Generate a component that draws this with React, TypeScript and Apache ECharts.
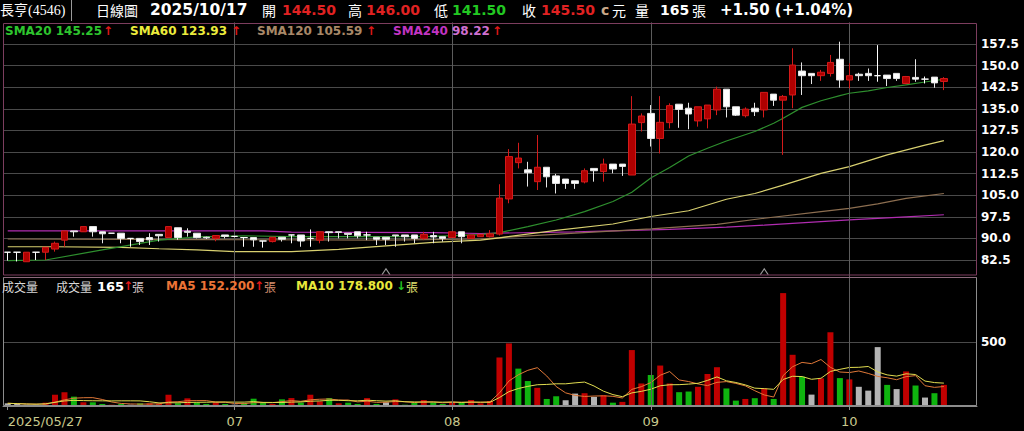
import React, { useEffect, useRef } from "react";
import * as echarts from "echarts";

// ---------- data ----------
const dates: string[] = [
  "2025/05/27", "2025/05/28", "2025/05/29",
  "2025/06/02", "2025/06/03", "2025/06/04", "2025/06/05", "2025/06/06", "2025/06/09", "2025/06/10",
  "2025/06/11", "2025/06/12", "2025/06/13", "2025/06/16", "2025/06/17", "2025/06/18", "2025/06/19",
  "2025/06/20", "2025/06/23", "2025/06/24", "2025/06/25", "2025/06/26", "2025/06/27", "2025/06/30",
  "2025/07/01", "2025/07/02", "2025/07/03", "2025/07/04", "2025/07/07", "2025/07/08", "2025/07/09",
  "2025/07/10", "2025/07/11", "2025/07/14", "2025/07/15", "2025/07/16", "2025/07/17", "2025/07/18",
  "2025/07/21", "2025/07/22", "2025/07/23", "2025/07/24", "2025/07/25", "2025/07/28", "2025/07/29",
  "2025/07/30", "2025/07/31",
  "2025/08/01", "2025/08/04", "2025/08/05", "2025/08/06", "2025/08/07", "2025/08/08", "2025/08/11",
  "2025/08/12", "2025/08/13", "2025/08/14", "2025/08/15", "2025/08/18", "2025/08/19", "2025/08/20",
  "2025/08/21", "2025/08/22", "2025/08/25", "2025/08/26", "2025/08/27", "2025/08/28", "2025/08/29",
  "2025/09/01", "2025/09/02", "2025/09/03", "2025/09/04", "2025/09/05", "2025/09/08", "2025/09/09",
  "2025/09/10", "2025/09/11", "2025/09/12", "2025/09/15", "2025/09/16", "2025/09/17", "2025/09/18",
  "2025/09/19", "2025/09/22", "2025/09/23", "2025/09/24", "2025/09/25", "2025/09/26", "2025/09/30",
  "2025/10/01", "2025/10/02", "2025/10/03", "2025/10/07", "2025/10/08", "2025/10/09", "2025/10/13",
  "2025/10/14", "2025/10/15", "2025/10/16", "2025/10/17",
];

// dates that carry an x-axis label (first day, then first trading day of each shown month)
const labelDates: string[] = ["2025/05/27", "2025/07/01", "2025/08/01", "2025/09/01", "2025/10/01"];

// [open, close, low, high]
const ohlc: number[][] = [
  [85.2, 85.2, 82.3, 85.2], [85.2, 85.2, 82.0, 85.2], [81.9, 85.2, 81.9, 85.2], [85.2, 85.2, 82.5, 85.2],
  [85.2, 86.9, 82.5, 86.9], [86.3, 88.3, 85.4, 88.9], [89.4, 92.6, 87.1, 92.6], [92.6, 92.3, 90.6, 92.6],
  [92.3, 94.1, 92.3, 94.1], [94.1, 92.3, 90.6, 94.1], [92.3, 91.6, 88.3, 92.3], [91.8, 91.8, 91.8, 91.8],
  [91.8, 90.0, 88.3, 91.8], [90.0, 90.0, 87.1, 90.0], [90.0, 88.9, 87.7, 90.0], [90.3, 89.5, 87.7, 91.8],
  [91.4, 90.9, 88.9, 91.4], [90.3, 94.1, 90.3, 94.1], [93.7, 90.3, 89.5, 93.7], [92.5, 92.1, 90.6, 93.5],
  [91.8, 90.3, 90.0, 91.8], [90.4, 90.2, 89.8, 90.6], [90.0, 91.0, 89.0, 91.0], [91.2, 90.7, 90.0, 91.2],
  [90.7, 90.7, 90.4, 90.8], [90.3, 90.3, 87.1, 90.3], [90.3, 89.5, 87.1, 90.3], [89.1, 89.1, 86.8, 89.1],
  [88.9, 90.4, 88.6, 90.4], [90.4, 89.7, 88.9, 90.4], [91.2, 91.2, 88.3, 91.2], [91.2, 89.1, 87.1, 91.2],
  [90.0, 90.0, 87.1, 93.1], [89.4, 92.3, 88.3, 92.3], [92.3, 92.0, 88.9, 92.3], [92.3, 92.1, 90.0, 92.3],
  [91.8, 91.4, 90.0, 91.8], [92.3, 90.9, 90.0, 92.3], [91.2, 91.2, 89.4, 92.3], [90.4, 89.7, 87.7, 90.4],
  [90.4, 89.7, 87.7, 90.4], [91.2, 90.9, 87.1, 91.2], [91.2, 90.6, 88.9, 91.2], [91.2, 90.0, 88.3, 91.2],
  [90.0, 91.4, 89.4, 92.3], [91.0, 90.5, 88.3, 92.3], [90.6, 90.0, 88.9, 90.6], [90.3, 92.3, 90.3, 92.3],
  [92.3, 90.6, 88.3, 92.3], [90.0, 91.2, 90.0, 91.2], [90.6, 91.4, 90.6, 91.4], [90.6, 91.6, 90.3, 92.9],
  [91.5, 104.0, 91.0, 108.8], [103.7, 118.4, 102.2, 121.0], [116.3, 117.9, 114.3, 123.2], [113.8, 112.8, 108.0, 116.6],
  [109.7, 114.7, 106.8, 125.9], [114.7, 111.4, 107.7, 114.7], [111.7, 109.1, 105.6, 112.4], [110.6, 109.1, 107.2, 110.6],
  [110.0, 109.1, 107.2, 110.0], [109.6, 113.5, 109.1, 114.3], [114.3, 113.5, 109.7, 114.3], [113.2, 115.8, 109.7, 117.7],
  [115.8, 114.1, 112.6, 115.8], [115.8, 115.0, 111.7, 115.8], [112.0, 129.7, 112.0, 139.4], [130.2, 132.5, 127.1, 133.4],
  [133.4, 124.7, 121.9, 136.3], [124.7, 130.3, 119.5, 139.4], [130.2, 136.1, 128.2, 136.9], [136.6, 134.8, 128.4, 136.6],
  [135.2, 133.2, 127.9, 137.1], [130.8, 135.7, 128.8, 135.7], [131.5, 136.3, 128.2, 136.3], [134.6, 141.8, 132.8, 142.7],
  [141.8, 135.7, 132.0, 141.8], [135.7, 132.8, 132.5, 135.7], [132.6, 134.9, 132.0, 135.5], [135.2, 134.0, 132.5, 137.1],
  [134.6, 140.7, 132.0, 140.7], [140.1, 138.0, 136.0, 140.1], [138.0, 139.3, 119.0, 139.8], [139.8, 150.2, 135.2, 156.0],
  [148.1, 146.5, 139.8, 151.1], [147.3, 146.5, 143.6, 147.3], [146.5, 147.7, 144.7, 148.5], [147.3, 151.1, 146.2, 153.7],
  [152.2, 145.0, 142.3, 158.3], [145.0, 146.5, 142.1, 150.8], [147.0, 146.5, 144.7, 147.5], [147.3, 146.5, 144.7, 149.0],
  [146.5, 146.5, 144.4, 157.1], [146.7, 145.5, 142.9, 146.7], [147.3, 145.5, 144.7, 147.3], [143.8, 146.2, 143.5, 146.4],
  [145.9, 145.3, 144.4, 152.2], [145.3, 145.3, 143.8, 146.2], [146.0, 144.0, 142.3, 146.0], [144.5, 145.5, 141.5, 146.0],
];

const volumes: number[] = [
  21, 16, 10, 10, 26, 88, 107, 73, 29, 29, 16, 10, 16, 10, 21, 21, 16, 88, 21, 60,
  26, 16, 29, 16, 10, 21, 57, 26, 16, 52, 62, 26, 88, 36, 62, 21, 26, 16, 62, 16,
  29, 52, 10, 26, 47, 26, 16, 31, 26, 47, 21, 39,
  379, 489, 292, 195, 142, 55, 76, 45, 97, 100, 71, 84, 26, 32, 437, 176, 242, 316,
  176, 108, 113, 150, 250, 303, 137, 42, 55, 61, 137, 55, 882, 400, 229, 89, 216, 576,
  218, 208, 150, 120, 460, 165, 132, 270, 160, 66, 100, 165,
];

// moving-average lines: [candle index, value]
const sma20Pts: [number, number][] = [
  [0, 82.3], [4, 82.5], [10, 86.0], [16, 89.4], [20, 90.5], [25, 90.9], [30, 90.6], [40, 90.6], [45, 90.7],
  [50, 91.3], [52, 92.0], [55, 94.1], [58, 96.4], [61, 99.3], [64, 102.8], [66, 106.0], [68, 111.0],
  [70, 114.6], [72, 118.6], [74, 121.3], [76, 123.8], [79, 127.1], [81, 130.0], [82, 131.7], [84, 135.5],
  [86, 137.8], [88, 139.6], [89, 140.4], [91, 141.2], [93, 142.4], [95, 143.3], [97, 144.3], [99, 145.25],
];
const sma60Pts: [number, number][] = [
  [0, 87.1], [5, 87.1], [12, 86.9], [16, 86.4], [20, 86.0], [24, 85.4], [30, 85.4], [35, 86.2], [40, 87.4],
  [45, 88.6], [50, 89.4], [52, 90.2], [58, 92.8], [64, 95.0], [68, 97.6], [72, 99.6], [76, 103.6],
  [79, 105.6], [82, 108.5], [86, 112.6], [89, 114.9], [93, 119.0], [97, 122.4], [99, 123.93],
];
const sma120Pts: [number, number][] = [
  [0, 89.8], [20, 89.6], [40, 89.4], [50, 89.8], [52, 90.3], [60, 91.8], [68, 93.3], [75, 94.9],
  [80, 97.0], [86, 99.3], [89, 100.4], [92, 102.0], [95, 103.9], [99, 105.59],
];
const sma240Pts: [number, number][] = [
  [0, 92.6], [27, 92.6], [30, 92.2], [45, 92.0], [50, 91.7], [60, 92.3], [70, 93.1], [76, 93.9],
  [80, 94.6], [89, 96.4], [95, 97.5], [99, 98.22],
];

const markerIdx: number[] = [40, 80];
const markerValue = 78.4;

const priceMin = 75, priceMax = 165, priceStep = 7.5;
const volMin = 0, volMax = 1000, volStep = 500;
const padSlots = 3;

// ---------- helpers ----------
const cats = [...dates, ...Array.from({ length: padSlots }, (_, k) => " ".repeat(k + 1))];
const labelIdx = labelDates.map((d) => dates.indexOf(d));
const isLabel = (i: number) => labelIdx.includes(i);
const gridIdx = labelIdx.filter((i) => i > 0);
const closes = ohlc.map((r) => r[1]);

const fromPts = (pts: [number, number][]) => {
  const arr: (number | null)[] = cats.map(() => null);
  pts.forEach(([i, v]) => (arr[i] = v));
  return arr;
};
const movingAvg = (vals: number[], n: number) =>
  vals.map((_, i) => {
    const s = vals.slice(Math.max(0, i - n + 1), i + 1);
    return +(s.reduce((a, b) => a + b, 0) / s.length).toFixed(1);
  });

const UP_FILL = "#b00000";
const UP_BORDER = "#d41a1a";
const DN_FILL = "#ffffff";
const DN_BORDER = "#e6e6e6";
const GRID_C = "#4a4a4a";
const VLINE_C = "#5c5c5c";
const FONT = "DejaVu Sans";
const CJK = "Noto Sans CJK TC";

const txt = (x: number, y: number, text: string, fill: string, size: number, bold = false, family = FONT) => ({
  type: "text",
  x,
  y,
  z: 100,
  silent: true,
  style: { text, fill, fontSize: size, fontWeight: bold ? "bold" : "normal", fontFamily: family, verticalAlign: "middle" },
});

export default function App() {
  const ref = useRef<HTMLDivElement>(null);

  useEffect(() => {
    if (!ref.current) return;
    const chart = echarts.init(ref.current, null, { renderer: "svg" });

    const vlineMark = {
      silent: true,
      symbol: "none",
      label: { show: false },
      lineStyle: { color: VLINE_C, type: "solid", width: 1 },
      data: gridIdx.map((i) => ({ xAxis: i })),
    };

    const volColor = (p: any) => {
      const i = p.dataIndex;
      if (i === 0) return "#b4b4b4";
      if (closes[i] > closes[i - 1]) return "#c00000";
      if (closes[i] < closes[i - 1]) return "#0fb40f";
      return "#b4b4b4";
    };

    const option: any = {
      animation: false,
      backgroundColor: "#000000",
      grid: [
        { left: 3, right: 47, top: 22.4, height: 259.2 },
        { left: 3, right: 47, top: 278, height: 128 },
      ],
      xAxis: [
        {
          type: "category", gridIndex: 0, data: cats, boundaryGap: true,
          axisLine: { show: false }, axisTick: { show: false }, axisLabel: { show: false }, splitLine: { show: false },
        },
        {
          type: "category", gridIndex: 1, data: cats, boundaryGap: true,
          axisLine: { show: true, lineStyle: { color: "#8c8c8c" } },
          axisTick: {
            show: true, alignWithLabel: true, length: 4,
            interval: (i: number) => isLabel(i),
            lineStyle: { color: "#8c8c8c" },
          },
          axisLabel: {
            interval: (i: number) => isLabel(i),
            formatter: (v: string, i: number) => (i === 0 ? v : v.slice(5, 7)),
            color: "#c8c88c", fontSize: 13, fontFamily: FONT, margin: 9,
            alignMinLabel: "left", hideOverlap: false,
          },
          splitLine: { show: false },
        },
      ],
      yAxis: [
        {
          type: "value", gridIndex: 0, position: "right", min: priceMin, max: priceMax, interval: priceStep,
          axisLine: { show: false }, axisTick: { show: false },
          axisLabel: {
            showMinLabel: false, showMaxLabel: false, color: "#ffffff", fontWeight: "bold",
            fontSize: 12, fontFamily: FONT, margin: 4, formatter: (v: number) => v.toFixed(1),
          },
          splitLine: { show: true, showMinLine: false, showMaxLine: false, lineStyle: { color: GRID_C, width: 1 } },
        },
        {
          type: "value", gridIndex: 1, position: "right", min: volMin, max: volMax, interval: volStep,
          axisLine: { show: false }, axisTick: { show: false },
          axisLabel: {
            showMinLabel: false, showMaxLabel: false, color: "#ffffff", fontWeight: "bold",
            fontSize: 12, fontFamily: FONT, margin: 4,
          },
          splitLine: { show: true, showMinLine: false, showMaxLine: false, lineStyle: { color: GRID_C, width: 1 } },
        },
      ],
      series: [
        {
          type: "candlestick", xAxisIndex: 0, yAxisIndex: 0, data: ohlc, barWidth: 7, z: 5,
          itemStyle: {
            color: UP_FILL, color0: DN_FILL, borderColor: UP_BORDER, borderColor0: DN_BORDER,
            borderColorDoji: "#ffffff", borderWidth: 1,
          },
          markLine: vlineMark,
        },
        { type: "line", xAxisIndex: 0, yAxisIndex: 0, data: fromPts(sma240Pts), connectNulls: true, showSymbol: false, z: 3, lineStyle: { color: "#b02cb0", width: 1.2 } },
        { type: "line", xAxisIndex: 0, yAxisIndex: 0, data: fromPts(sma120Pts), connectNulls: true, showSymbol: false, z: 3, lineStyle: { color: "#8c6e50", width: 1.2 } },
        { type: "line", xAxisIndex: 0, yAxisIndex: 0, data: fromPts(sma60Pts), connectNulls: true, showSymbol: false, z: 3, lineStyle: { color: "#d8d070", width: 1.2 } },
        { type: "line", xAxisIndex: 0, yAxisIndex: 0, data: fromPts(sma20Pts), connectNulls: true, showSymbol: false, z: 3, lineStyle: { color: "#2e8f2e", width: 1.2 } },
        {
          type: "scatter", xAxisIndex: 0, yAxisIndex: 0, z: 4,
          data: markerIdx.map((i) => [i, markerValue]),
          symbol: "path://M0,10 L5,0 L10,10", symbolSize: [8, 6],
          itemStyle: { color: "transparent", borderColor: "#bdbdbd", borderWidth: 1 },
        },
        {
          type: "bar", xAxisIndex: 1, yAxisIndex: 1, data: volumes, barWidth: 6, z: 3,
          itemStyle: { color: volColor },
          markLine: vlineMark,
        },
        { type: "line", xAxisIndex: 1, yAxisIndex: 1, data: movingAvg(volumes, 5), showSymbol: false, z: 4, lineStyle: { color: "#e07838", width: 1 } },
        { type: "line", xAxisIndex: 1, yAxisIndex: 1, data: movingAvg(volumes, 10), showSymbol: false, z: 4, lineStyle: { color: "#e0dc50", width: 1 } },
      ],
      graphic: [
        // frames
        { type: "rect", z: 50, silent: true, shape: { x: 3.5, y: 23.5, width: 973, height: 251.5 }, style: { fill: "none", stroke: "#7c3d5e", lineWidth: 1 } },
        { type: "rect", z: 50, silent: true, shape: { x: 3.5, y: 277.5, width: 973, height: 128 }, style: { fill: "none", stroke: "#8c8c8c", lineWidth: 1 } },
        { type: "line", z: 50, silent: true, shape: { x1: 3.5, y1: 277.5, x2: 976.5, y2: 277.5 }, style: { stroke: "#8c6a7c", lineWidth: 1 } },
        { type: "line", z: 50, silent: true, shape: { x1: 71.5, y1: 0, x2: 71.5, y2: 21 }, style: { stroke: "#9a9a9a", lineWidth: 1 } },
        // header
        txt(0, 10, "長亨(4546)", "#ffffff", 14, false, `"Liberation Serif", "${CJK}"`),
        txt(96, 10, "日線圖", "#ffffff", 14, false, CJK),
        txt(150, 10, "2025/10/17", "#ffffff", 15.5, true),
        txt(262, 10, "開", "#ffffff", 14, false, CJK),
        txt(282, 10, "144.50", "#e02222", 14, true),
        txt(348, 10, "高", "#ffffff", 14, false, CJK),
        txt(366, 10, "146.00", "#e02222", 14, true),
        txt(434, 10, "低", "#ffffff", 14, false, CJK),
        txt(452, 10, "141.50", "#22c822", 14, true),
        txt(522, 10, "收", "#ffffff", 14, false, CJK),
        txt(541, 10, "145.50", "#e02222", 14, true),
        txt(601, 10, "c", "#c8a888", 14, true),
        txt(612, 10, "元", "#ffffff", 14, false, CJK),
        txt(635, 10, "量", "#ffffff", 14, false, CJK),
        txt(660, 10, "165", "#ffffff", 14, true),
        txt(692, 10, "張", "#ffffff", 14, false, CJK),
        txt(720, 10, "+1.50 (+1.04%)", "#ffffff", 15, true),
        // price legend
        txt(5, 31, "SMA20 145.25", "#2ec42e", 12, true),
        txt(103, 31, "↑", "#e01818", 12, true),
        txt(130, 31, "SMA60 123.93", "#ecec3c", 12, true),
        txt(231, 31, "↑", "#e01818", 12, true),
        txt(257, 31, "SMA120 105.59", "#a88868", 12, true),
        txt(366, 31, "↑", "#e01818", 12, true),
        txt(393, 31, "SMA240", "#c234c2", 12, true),
        txt(452, 31, "98.22", "#d070d0", 12, true),
        txt(492, 31, "↑", "#e01818", 12, true),
        // volume legend
        txt(2, 286, "成交量", "#d8d8d8", 12, false, CJK),
        txt(56, 286, "成交量", "#d8d8d8", 12, false, CJK),
        txt(97, 286, "165", "#ffffff", 13, true),
        txt(123, 286, "↑", "#e01818", 12, true),
        txt(132, 286, "張", "#d8c8c8", 12, false, CJK),
        txt(166, 286, "MA5 152.200", "#ec7436", 12, true),
        txt(254, 286, "↑", "#e01818", 12, true),
        txt(264, 286, "張", "#d89070", 12, false, CJK),
        txt(296, 286, "MA10 178.800", "#e8e83c", 12, true),
        txt(396, 286, "↓", "#22c822", 12, true),
        txt(406, 286, "張", "#e0e070", 12, false, CJK),
      ],
    };

    chart.setOption(option);
    return () => chart.dispose();
  }, []);

  return (
    <div
      ref={ref}
      style={{ position: "absolute", left: 0, top: 0, width: 1024, height: 431, background: "#000" }}
    />
  );
}
